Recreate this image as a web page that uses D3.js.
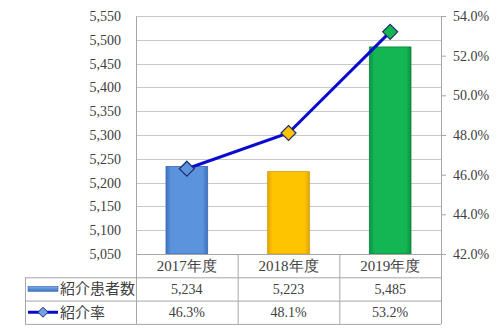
<!DOCTYPE html>
<html>
<head>
<meta charset="utf-8">
<script src="https://cdn.jsdelivr.net/npm/d3@7"></script>
<style>
  body { margin: 0; background: #fff; }
  svg { display: block; }
  .num { font-family: "Liberation Serif", "DejaVu Serif", serif; font-size: 14px; fill: #404040; }
  .jp { font-family: "Noto Sans CJK JP", sans-serif; font-size: 15px; fill: #404040; }
</style>
</head>
<body>
<svg id="chart" width="500" height="332"></svg>
<script>
// data
var categories = ['2017年度', '2018年度', '2019年度'];
var patients = [5234, 5223, 5485];
var rates = [46.3, 48.1, 53.2];
var leftTicks = [5050, 5100, 5150, 5200, 5250, 5300, 5350, 5400, 5450, 5500, 5550];
var rightTicks = [42, 44, 46, 48, 50, 52, 54];
var barNames = ['紹介患者数', '紹介率'];

var colors = [
  { main: '#5B93DC', edge: '#3C72C2', stroke: '#3A6AB3' },
  { main: '#FFC400', edge: '#E6A600', stroke: '#CF9C00' },
  { main: '#14B553', edge: '#0A9343', stroke: '#0A853A' }
];

var svg = d3.select('#chart');
var plotLeft = 136, plotRight = 441, plotTop = 16, plotBottom = 254;
var rowH = 23.3;

var x = d3.scaleBand().domain(categories).range([plotLeft, plotRight])
  .paddingInner(0.59).paddingOuter(0.295);
var step = x.step();
var yL = d3.scaleLinear().domain([5050, 5550]).range([plotBottom, plotTop]);
var yR = d3.scaleLinear().domain([42, 54]).range([plotBottom, plotTop]);

// gradients
var defs = svg.append('defs');
colors.forEach(function(c, i) {
  var g = defs.append('linearGradient').attr('id', 'bar' + i)
    .attr('x1', 0).attr('x2', 1).attr('y1', 0).attr('y2', 0);
  g.append('stop').attr('offset', '0%').attr('stop-color', c.edge);
  g.append('stop').attr('offset', '12%').attr('stop-color', c.main);
  g.append('stop').attr('offset', '88%').attr('stop-color', c.main);
  g.append('stop').attr('offset', '100%').attr('stop-color', c.edge);
});

// gridlines
svg.append('g').selectAll('line').data(leftTicks).join('line')
  .attr('x1', plotLeft).attr('x2', plotRight)
  .attr('y1', function(d) { return Math.round(yL(d)) + 0.5; })
  .attr('y2', function(d) { return Math.round(yL(d)) + 0.5; })
  .attr('stroke', '#c8c8c8').attr('stroke-width', 1);

// left axis
var axL = svg.append('g').attr('transform', 'translate(' + plotLeft + ',0)')
  .call(d3.axisLeft(yL).tickValues(leftTicks).tickSize(0).tickPadding(15)
    .tickFormat(d3.format(',')));
axL.select('.domain').attr('stroke', '#a6a6a6');
axL.selectAll('text').attr('class', 'num').attr('font-family', null).attr('font-size', null);

// right axis
var axR = svg.append('g').attr('transform', 'translate(' + plotRight + ',0)')
  .call(d3.axisRight(yR).tickValues(rightTicks).tickSize(5).tickPadding(7)
    .tickFormat(function(d) { return d.toFixed(1) + '%'; }));
axR.select('.domain').attr('stroke', '#a6a6a6');
axR.selectAll('line').attr('stroke', '#a6a6a6');
axR.selectAll('text').attr('class', 'num').attr('font-family', null).attr('font-size', null);

// bars
svg.append('g').selectAll('rect').data(patients).join('rect')
  .attr('x', function(d, i) { return x(categories[i]); })
  .attr('y', function(d) { return yL(d); })
  .attr('width', x.bandwidth())
  .attr('height', function(d) { return plotBottom - yL(d); })
  .attr('fill', function(d, i) { return 'url(#bar' + i + ')'; })
  .attr('stroke', function(d, i) { return colors[i].stroke; })
  .attr('stroke-width', 0.8);

// line
var cx = function(i) { return x(categories[i]) + x.bandwidth() / 2; };
svg.append('path').datum(rates)
  .attr('d', d3.line().x(function(d, i) { return cx(i); }).y(function(d) { return yR(d); }))
  .attr('fill', 'none').attr('stroke', '#0a0ad0').attr('stroke-width', 3);

var diamond = function(s) { return 'M0,' + (-s) + 'L' + s + ',0L0,' + s + 'L' + (-s) + ',0Z'; };
svg.append('g').selectAll('path').data(rates).join('path')
  .attr('d', diamond(7.5))
  .attr('transform', function(d, i) { return 'translate(' + cx(i) + ',' + yR(d) + ')'; })
  .attr('fill', function(d, i) { return colors[i].main; })
  .attr('stroke', '#1f2f70').attr('stroke-width', 1.2);

// data table
var tbl = svg.append('g');
var tLeft = 25;
var r1 = plotBottom + rowH, r2 = r1 + rowH, r3 = r2 + rowH;
var lineC = '#a6a6a6';
function hline(x1, x2, y) {
  tbl.append('line').attr('x1', x1).attr('x2', x2).attr('y1', y + 0.5).attr('y2', y + 0.5)
    .attr('stroke', lineC);
}
function vline(xx, y1, y2) {
  tbl.append('line').attr('x1', xx + 0.5).attr('x2', xx + 0.5).attr('y1', y1).attr('y2', y2)
    .attr('stroke', lineC);
}
hline(plotLeft, plotRight, plotBottom);
hline(tLeft, plotRight, r1);
hline(tLeft, plotRight, r2);
hline(tLeft, plotRight, r3);
vline(tLeft, r1, r3);
vline(plotLeft, plotBottom, r3);
categories.forEach(function(c, i) { vline(plotLeft + step * (i + 1), plotBottom, r3); });

tbl.selectAll('.cat').data(categories).join('text')
  .attr('class', 'num')
  .style('font-size', '15px')
  .attr('x', function(d) { return x(d) + x.bandwidth() / 2; })
  .attr('y', plotBottom + rowH / 2 + 5.5)
  .attr('text-anchor', 'middle')
  .text(function(d) { return d; });

tbl.selectAll('.v1').data(patients).join('text')
  .attr('class', 'num')
  .attr('x', function(d, i) { return cx(i); })
  .attr('y', r1 + rowH / 2 + 5)
  .attr('text-anchor', 'middle')
  .text(d3.format(','));

tbl.selectAll('.v2').data(rates).join('text')
  .attr('class', 'num')
  .attr('x', function(d, i) { return cx(i); })
  .attr('y', r2 + rowH / 2 + 5)
  .attr('text-anchor', 'middle')
  .text(function(d) { return d.toFixed(1) + '%'; });

// legend keys
var lg = defs.append('linearGradient').attr('id', 'legbar')
  .attr('x1', 0).attr('x2', 0).attr('y1', 0).attr('y2', 1);
lg.append('stop').attr('offset', '0%').attr('stop-color', '#7FAEE8');
lg.append('stop').attr('offset', '100%').attr('stop-color', '#3C72C2');
tbl.append('rect').attr('x', 28).attr('y', r1 + 9).attr('width', 30).attr('height', 5)
  .attr('fill', 'url(#legbar)').attr('stroke', '#3A6AB3').attr('stroke-width', 0.6);
tbl.append('line').attr('x1', 28).attr('x2', 58)
  .attr('y1', r2 + rowH / 2).attr('y2', r2 + rowH / 2)
  .attr('stroke', '#0a0ad0').attr('stroke-width', 3);
tbl.append('path').attr('d', diamond(5))
  .attr('transform', 'translate(43,' + (r2 + rowH / 2) + ')')
  .attr('fill', '#6FA2E6').attr('stroke', '#1f2f70').attr('stroke-width', 1);

tbl.selectAll('.lbl').data(barNames).join('text')
  .attr('class', 'jp')
  .attr('x', 60)
  .attr('y', function(d, i) { return r1 + rowH * i + rowH / 2 + 5.5; })
  .text(function(d) { return d; });
</script>
</body>
</html>
